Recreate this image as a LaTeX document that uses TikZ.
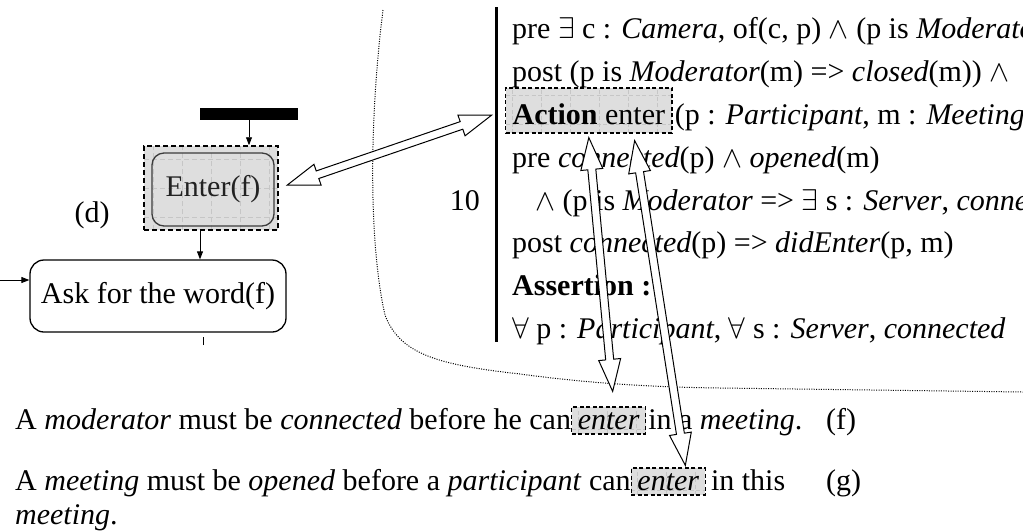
\RequirePackage{fix-cm}
\documentclass[tikz,border=0pt]{standalone}
\usepackage{fontspec}
\setmainfont{Liberation Serif}
\usetikzlibrary{arrows.meta,positioning,calc}
\definecolor{cInk}{HTML}{000000}
\definecolor{cShade}{HTML}{DEDEDE}
\definecolor{cGridLine}{HTML}{C6C6C6}
\definecolor{cFrame}{HTML}{3C3C3C}
\definecolor{cText}{HTML}{222222}
\tikzset{
  txt/.style={font=\fontsize{30}{36}\selectfont, inner sep=0pt, anchor=base west},
  hlbox/.style={draw=cInk, dash pattern=on 4pt off 2.5pt, line width=1.2pt, fill=cShade,
    path picture={\draw[cGridLine, line width=0.4pt]
      (path picture bounding box.south west) grid[step=29pt]
      (path picture bounding box.north east);}},
  hlword/.style={hlbox, txt, inner xsep=6pt, inner ysep=0pt,
    text height=22pt, text depth=5pt},
  flow/.style={-{Triangle[length=8pt,width=6pt]}, line width=0.9pt},
  hollow/.style={draw=cInk, fill=white, line width=1pt, line join=miter},
}
% hollow two-headed arrow between two tips
\newcommand{\hollowlink}[2]{%
  \coordinate (ta) at (#1);
  \coordinate (tb) at (#2);
  \coordinate (ha) at ($(ta)!32pt!(tb)$);
  \coordinate (hb) at ($(tb)!32pt!(ta)$);
  \draw[hollow] (ta) -- ($(ha)!11pt!90:(tb)$) -- ($(ha)!4pt!90:(tb)$)
    -- ($(hb)!4pt!-90:(ta)$) -- ($(hb)!11pt!-90:(ta)$) -- (tb)
    -- ($(hb)!11pt!90:(ta)$) -- ($(hb)!4pt!90:(ta)$)
    -- ($(ha)!4pt!-90:(tb)$) -- ($(ha)!11pt!-90:(tb)$) -- cycle;}

\begin{document}
\begin{tikzpicture}[x=1pt, y=-1pt]
\clip (0,0) rectangle (1023,531);

% ============================================================ frame
\draw[dash pattern=on 1pt off 1.4pt, line width=1pt]
  (383,10) .. controls (368,130) and (370,250) .. (385,315)
  .. controls (400,355) and (440,365) .. (520,374)
  .. controls (580,382) and (640,387) .. (720,388) -- (1023,392);
\coordinate (bartop) at (496,7);
\coordinate (barbot) at (496,342);
\draw[line width=3pt] (bartop) -- (barbot);

% ============================================================ specification
\node[txt] (pre1) at (512,38) {pre $\exists$ c : \textit{Camera}, of(c, p) $\wedge$ (p is \textit{Moderator}};
\node[txt] (post1) at (512,81) {post (p is \textit{Moderator}(m) => \textit{closed}(m)) $\wedge$};
\node[hlbox, txt, inner xsep=7pt, inner ysep=0pt, text height=36pt, text depth=9pt]
  (act) at (505,124) {\textbf{Action} enter};
\node[txt] (actrest) at (act.base east) {\hspace{2pt}(p : \textit{Participant}, m : \textit{Meeting})};
\node[txt] (pre2) at (512,167) {pre \textit{connected}(p) $\wedge$ \textit{opened}(m)};
\node[txt] (pre2b) at (535,210) {$\wedge$ (p is \textit{Moderator} => $\exists$ s : \textit{Server}, \textit{connected}};
\node[txt, anchor=base east] (lno) at (480,210) {10};
\node[txt] (post2) at (512,252) {post \textit{connected}(p) => \textit{didEnter}(p, m)};
\node[txt] (asrt) at (512,295) {\textbf{Assertion :}};
\node[txt] (forall) at (512,338) {$\forall$ p : \textit{Participant}, $\forall$ s : \textit{Server}, \textit{connected}};

% ============================================================ sentences
\node[txt] (fa) at (15,429) {A \textit{moderator} must be \textit{connected} before he can};
\node[hlword] (fen) at (fa.base east) {\textit{enter}};
\node[txt] (fb) at (fen.base east) {\hspace{2pt}in a \textit{meeting}.};
\node[txt] (flab) at (826,429) {(f)};
\node[txt] (ga) at (15,490) {A \textit{meeting} must be \textit{opened} before a \textit{participant} can};
\node[hlword] (gen) at (ga.base east) {\textit{enter}};
\node[txt] (gb) at (gen.base east) {\hspace{5pt}in this};
\node[txt] (glab) at (826,490) {(g)};
\node[txt] (gc) at (15,524) {\textit{meeting}.};

% ============================================================ activity diagram
\node[fill=cInk, minimum width=98pt, minimum height=12pt, inner sep=0pt] (bar) at (249,114) {};
\node[hlbox, dash pattern=on 5pt off 3pt, line width=1.5pt, minimum width=134pt,
  minimum height=84pt, inner sep=0pt] (enterd) at (211,188) {};
\node[draw=cFrame, rounded corners=12pt, line width=1.3pt, minimum width=122pt,
  minimum height=73pt, font=\fontsize{30}{36}\selectfont, text=cText] (enter) at (213,189.5) {Enter(f)};
\node[txt, anchor=center] (dlab) at (92,215) {(d)};
\node[draw=cInk, rounded corners=14pt, line width=1.3pt, minimum width=256pt,
  minimum height=72pt, font=\fontsize{30}{36}\selectfont] (ask) at (158,296) {Ask for the word(f)};
\draw[flow] (bar.south) -- (enterd.north -| bar.south);
\coordinate (drop) at (200,0);
\draw[flow] (enterd.south -| drop) -- (ask.north -| drop);
\coordinate (entry) at (0,280);
\draw[flow] (entry) -- (entry -| ask.west);
\coordinate (tick) at (203,345);
\draw[line width=0.9pt] (tick) -- ++(0,-8);

% ============================================================ links
\hollowlink{$(enterd.east)!9pt!(act.west)$}{$(act.west)!14pt!(enterd.east)$}
\hollowlink{$(act.south)+(0,4)$}{$(fen.north)+(4,-15)$}
\hollowlink{$(act.south east)+(-38,7)$}{$(gen.north)+(17,-2)$}
\end{tikzpicture}
\end{document}
